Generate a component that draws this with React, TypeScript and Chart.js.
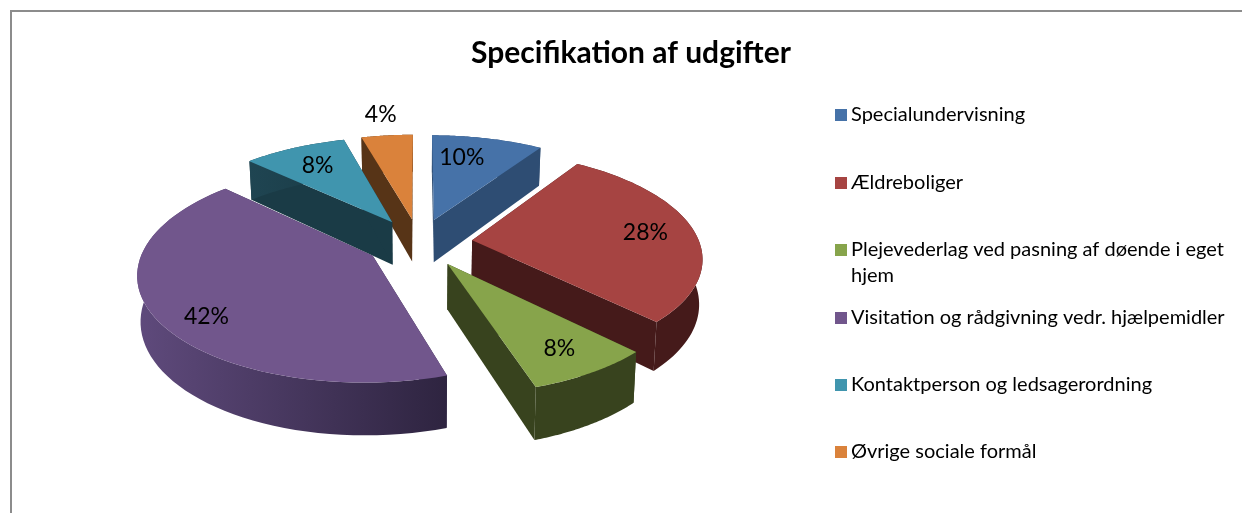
import React, { useEffect, useRef } from "react";
import { Chart, registerables } from "chart.js";

Chart.register(...registerables);

const titleText = "Specifikation af udgifter";
const categories = [
  "Specialundervisning",
  "Ældreboliger",
  "Plejevederlag ved pasning af døende i eget hjem",
  "Visitation og rådgivning vedr. hjælpemidler",
  "Kontaktperson og ledsagerordning",
  "Øvrige sociale formål",
];
const legendLines = [
  ["Specialundervisning"],
  ["Ældreboliger"],
  ["Plejevederlag ved pasning af døende i eget", "hjem"],
  ["Visitation og rådgivning vedr. hjælpemidler"],
  ["Kontaktperson og ledsagerordning"],
  ["Øvrige sociale formål"],
];
const values = [9.3, 28.3, 7.5, 42, 8.6, 4.3];
const valueLabels = ["10%", "28%", "8%", "42%", "8%", "4%"];
const topColors = ["#4672a8", "#a64442", "#87a44b", "#71568c", "#4095ae", "#da823b"];
const faceColors = ["#2e4d73", "#451a1a", "#38431e", "#33274a", "#1a3b46", "#573417"];
const wallStart = ["#2e4d73", "#451a1a", "#38431e", "#5f4a7c", "#1f4552", "#573417"];
const wallEnd = ["#2e4d73", "#451a1a", "#38431e", "#2e2440", "#1a3b46", "#573417"];
const labelRadii = [0.72, 0.78, 0.8, 0.83, 0.74, 1.3];
const labelTurnDeg = [-5, 0, 0, -7, 0, 0];

const FONT = "Lato, Carlito, sans-serif";
const CANVAS_LEFT = 20;

type P = { x: number; y: number };

const pie3d = {
  id: "pie3d",
  beforeDatasetsDraw(chart: any) {
    const ctx: CanvasRenderingContext2D = chart.ctx;
    const arcs = chart.getDatasetMeta(0).data as any[];
    const first = arcs[0];
    const R = first.outerRadius;
    const cx = first.x + (419 - 631);
    const cy = first.y;
    const a = R * 2.02;
    const b = R * 0.92;
    const k = 0.15;
    const proj = (X: number, Y: number) => {
      const s = 1 / (1 + k * Y);
      return { x: cx + a * X * s, y: cy - b * Y * s, s };
    };
    const drop = (p: { x: number; y: number; s: number }): P => ({
      x: p.x - (p.x - cx) * 0.012,
      y: p.y + 0.39 * p.s * R,
    });
    const trace = (pts: P[]) => {
      ctx.beginPath();
      pts.forEach((p, i) => (i ? ctx.lineTo(p.x, p.y) : ctx.moveTo(p.x, p.y)));
      ctx.closePath();
    };
    const poly = (pts: P[], color: string | CanvasGradient) => {
      trace(pts);
      ctx.fillStyle = color;
      ctx.fill();
    };

    const slices = arcs.map((el, i) => {
      const start = el.startAngle + Math.PI / 2;
      const end = el.endAngle + Math.PI / 2;
      const mid = (start + end) / 2;
      const off = (el.options.offset || 0) / 4 / R;
      const ox = Math.sin(mid) * off * 1.04;
      const oy = Math.cos(mid) * off * 1.04;
      return { el, i, start, end, mid, ox, oy };
    });
    slices.sort((p, q) => q.oy - p.oy);

    ctx.save();
    for (const sl of slices) {
      const { i, start, end, ox, oy } = sl;
      const apex = proj(ox, oy);
      const N = 60;
      const rim = [] as ReturnType<typeof proj>[];
      for (let n = 0; n <= N; n++) {
        const t = start + ((end - start) * n) / N;
        rim.push(proj(ox + Math.sin(t), oy + Math.cos(t)));
      }
      const face = faceColors[i];
      poly([apex, rim[0], drop(rim[0]), drop(apex)], face);
      poly([apex, rim[N], drop(rim[N]), drop(apex)], face);
      const xs = rim.map((p) => p.x);
      const grad = ctx.createLinearGradient(Math.min(...xs), 0, Math.max(...xs), 0);
      grad.addColorStop(0, wallStart[i]);
      grad.addColorStop(1, wallEnd[i]);
      poly([...rim, ...rim.map(drop).reverse()], grad);
      poly([apex, ...rim], sl.el.options.backgroundColor);
    }

    ctx.fillStyle = "#000";
    ctx.font = `23px ${FONT}`;
    ctx.textAlign = "center";
    ctx.textBaseline = "middle";
    for (const sl of slices) {
      const r = labelRadii[sl.i];
      const t = sl.mid + (labelTurnDeg[sl.i] * Math.PI) / 180;
      const p = proj(sl.ox + Math.sin(t) * r, sl.oy + Math.cos(t) * r);
      ctx.fillText(valueLabels[sl.i], p.x, p.y);
    }

    const legendY = [115, 183, 250, 318, 385, 452];
    ctx.textAlign = "left";
    ctx.font = `20px ${FONT}`;
    legendY.forEach((y, i) => {
      ctx.fillStyle = topColors[i];
      ctx.fillRect(835 - CANVAS_LEFT, y - 6, 12, 12);
      ctx.fillStyle = "#000";
      legendLines[i].forEach((line, j) => ctx.fillText(line, 851 - CANVAS_LEFT, y + j * 26));
    });
    ctx.restore();
    return false;
  },
};

export default function App() {
  const ref = useRef<HTMLCanvasElement>(null);
  useEffect(() => {
    document.body.style.margin = "0";
    const chart = new Chart(ref.current!, {
      type: "pie",
      data: {
        labels: categories,
        datasets: [
          {
            data: values,
            backgroundColor: topColors,
            borderWidth: 0,
            offset: 102,
          },
        ],
      },
      options: {
        animation: false,
        responsive: false,
        layout: { padding: { bottom: 107 } },
        plugins: {
          legend: { display: false },
          tooltip: { enabled: false },
          title: {
            display: true,
            text: titleText,
            color: "#000",
            font: { family: FONT, size: 30, weight: "bold" },
            padding: { top: 35, bottom: 8 },
          },
        },
      },
      plugins: [pie3d],
    } as any);
    return () => chart.destroy();
  }, []);
  return (
    <div style={{ position: "relative", width: 1242, height: 513, overflow: "hidden", background: "#fff" }}>
      <div
        style={{
          position: "absolute",
          left: 10,
          top: 10,
          width: 1240,
          height: 510,
          border: "2px solid #8c8c8c",
          boxSizing: "border-box",
        }}
      />
      <canvas
        ref={ref}
        width={1222}
        height={513}
        style={{ position: "absolute", left: CANVAS_LEFT, top: 0, width: 1222, height: 513 }}
      />
    </div>
  );
}
